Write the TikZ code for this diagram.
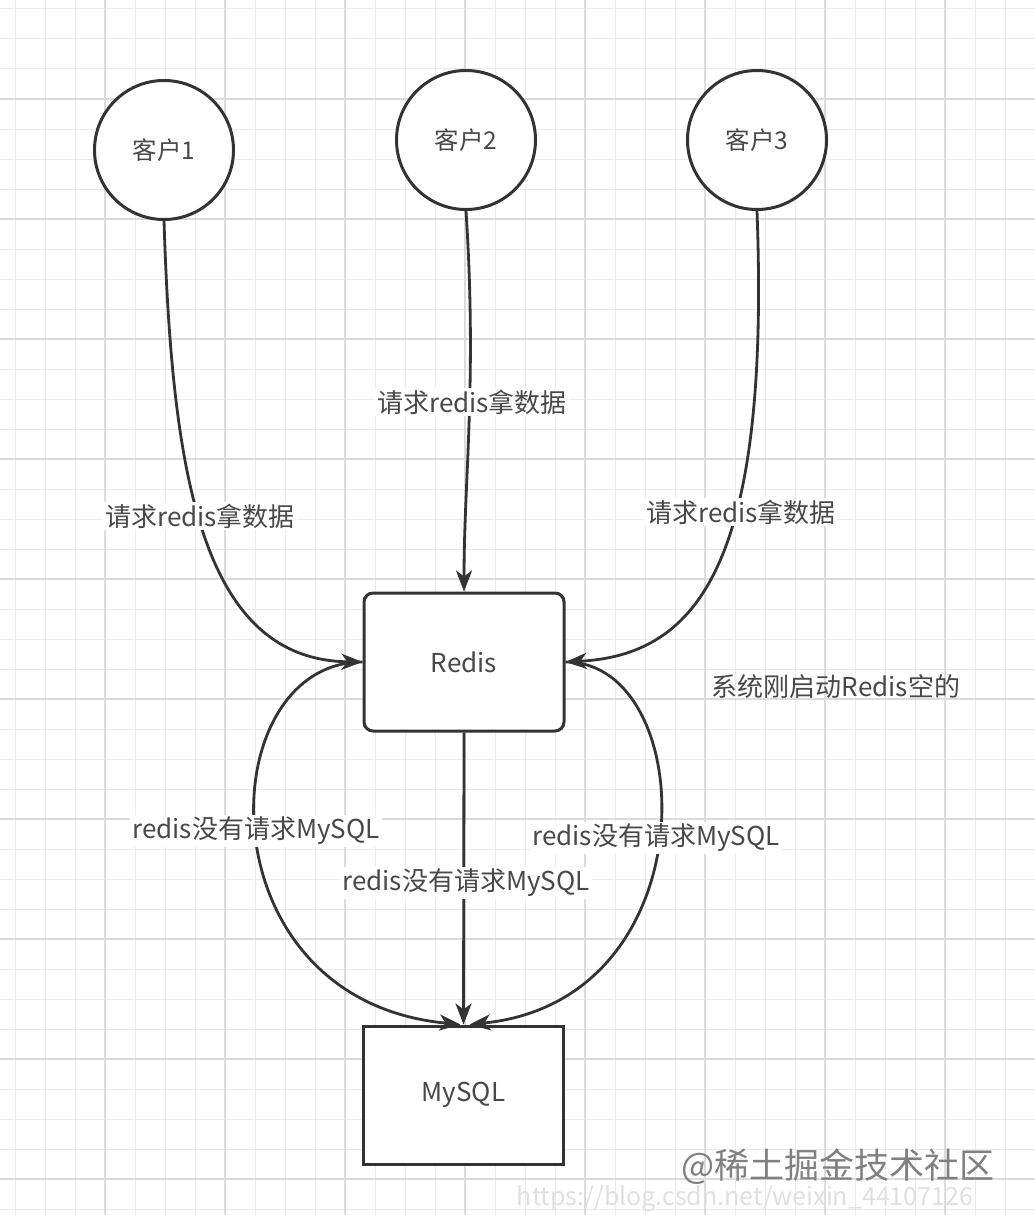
\documentclass[tikz,border=0pt]{standalone}
\usepackage{fontspec}
\setmainfont{Noto Sans CJK SC}
\usetikzlibrary{arrows.meta}
\definecolor{ink}{HTML}{333333}
\definecolor{txt}{HTML}{484848}
\definecolor{gridminor}{HTML}{EBEBEB}
\definecolor{gridmajor}{HTML}{DCDCDC}
\tikzset{
  gminor/.style={draw=gridminor, line width=1pt},
  gmajor/.style={draw=gridmajor, line width=1.2pt},
  client/.style={circle, draw=ink, fill=white, line width=3pt, minimum size=139pt, inner sep=0pt,
                 text=txt, font=\fontsize{24.5}{28}\selectfont},
  rbox/.style={rectangle, draw=ink, fill=white, line width=3pt, minimum width=200pt, minimum height=138pt,
               inner sep=0pt, text=txt, font=\fontsize{26}{30}\selectfont},
  arr/.style={draw=ink, line width=2.8pt, -{Stealth[length=21pt,width=16pt,inset=6pt]}},
  lbl/.style={fill=white, inner sep=2pt, text=txt, font=\fontsize{26}{30}\selectfont},
  note/.style={inner sep=0pt, text=txt, font=\fontsize{26}{30}\selectfont},
}
\begin{document}
\begin{tikzpicture}[x=1pt,y=-1pt]
\useasboundingbox (0,0) rectangle (1035,1215);
\fill[white] (0,0) rectangle (1035,1215);
% grid
\foreach \x in {15,45,...,1035} \draw[gminor] (\x,0) -- (\x,1215);
\foreach \y in {9,39,...,1215} \draw[gminor] (0,\y) -- (1035,\y);
\foreach \x in {105,225,...,1035} \draw[gmajor] (\x,0) -- (\x,1215);
\foreach \y in {99,219,...,1215} \draw[gmajor] (0,\y) -- (1035,\y);

% nodes
\node[client] (c1) at (164,150) {客户1};
\node[client] (c2) at (466,140) {客户2};
\node[client] (c3) at (757,140) {客户3};
\node[rbox, rounded corners=9pt] (redis) at (464,662) {Redis};
\node[rbox] (mysql) at (463.5,1095) {MySQL};

% connectors
\draw[arr] (c1.south) .. controls (172,470) and (200,660) .. (redis.west);
\draw[arr] (c2.south) .. controls (477,380) and (464,480) .. (redis.north);
\draw[arr] (c3.south) .. controls (770,560) and (700,655) .. (redis.east);
\draw[arr] (redis.west) .. controls (210,662) and (200,1000) .. ([xshift=-3pt]mysql.north);
\draw[arr] (redis.south) -- (mysql.north);
\draw[arr] (redis.east) .. controls (700,661) and (712,1000) .. ([xshift=6pt]mysql.north);

% labels
\node[lbl] (l1) at (200,516) {请求redis拿数据};
\node[lbl] (l2) at (472,402) {请求redis拿数据};
\node[lbl] (l3) at (741,512) {请求redis拿数据};
\node[lbl] (l4) at (256,831) {redis没有请求MySQL};
\node[lbl] (l5) at (466,883) {redis没有请求MySQL};
\node[lbl] (l6) at (656,838) {redis没有请求MySQL};
\node[note] (n1) at (836,687) {系统刚启动Redis空的};

% watermark
\node[inner sep=0pt, text=black!12, font=\fontsize{25}{28}\selectfont] (wm2) at (745,1199) {https://blog.csdn.net/weixin\_44107126};
\node[inner sep=0pt, text=black!50, font=\fontsize{35}{38}\selectfont] (wm1) at (838,1167) {@稀土掘金技术社区};
\end{tikzpicture}
\end{document}
